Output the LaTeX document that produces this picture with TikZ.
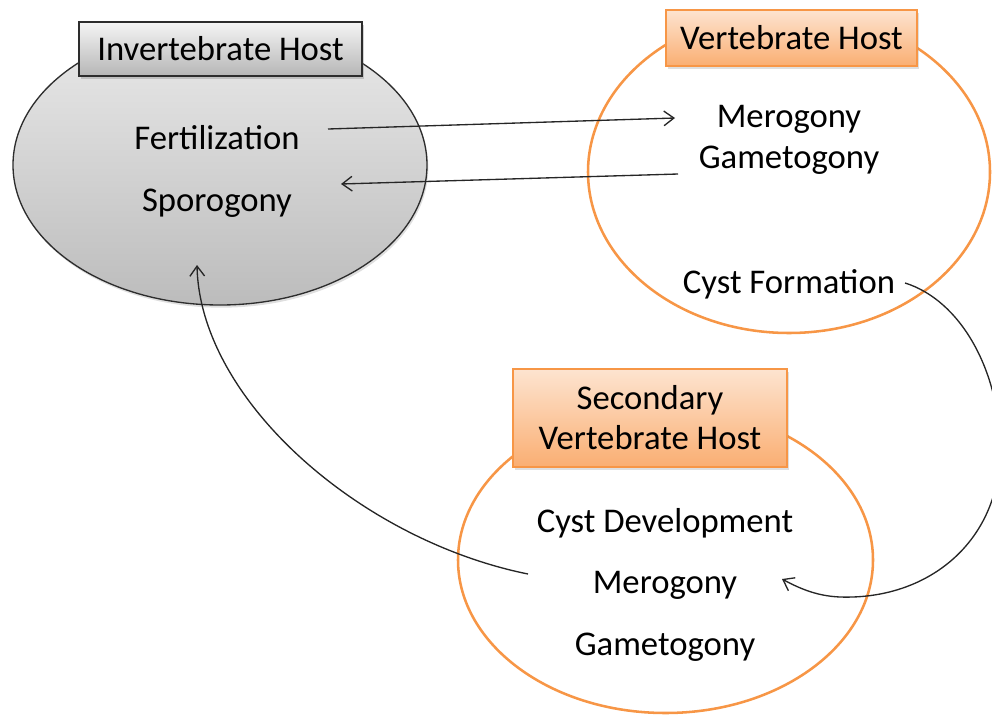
\documentclass[tikz,border=0pt]{standalone}
\usepackage{fontspec}
\setmainfont{Carlito}
\usetikzlibrary{shapes.geometric,arrows.meta,shadows}
\definecolor{orng}{RGB}{247,150,70}
\definecolor{orngtop}{RGB}{253,228,208}
\definecolor{orngbot}{RGB}{250,174,114}
\definecolor{graytop}{RGB}{234,234,234}
\definecolor{graybot}{RGB}{188,188,188}
\definecolor{gline}{RGB}{45,45,45}
\tikzset{
  txt/.style={inner sep=0pt, anchor=base, text=black},
  grayell/.style={ellipse, draw=gline, line width=1pt, top color=graytop, bottom color=graybot,
     drop shadow={shadow xshift=1pt, shadow yshift=-2pt, opacity=0.25}},
  orell/.style={ellipse, draw=orng, line width=1.9pt, fill=white},
  graybox/.style={rectangle, draw=gline, line width=1.1pt, top color=white!92!gray, bottom color=graybot!90!gray,
     inner sep=0pt, drop shadow={shadow xshift=1.5pt, shadow yshift=-2pt, opacity=0.35}},
  orbox/.style={rectangle, draw=orng, line width=1pt, top color=orngtop, bottom color=orngbot,
     inner sep=0pt, align=center, drop shadow={shadow xshift=1.5pt, shadow yshift=-2pt, opacity=0.25}},
  arr/.style={draw=black!85, line width=1pt, -{Straight Barb[length=7.5pt,width=11pt,line width=1pt]}}
}
\begin{document}
\begin{tikzpicture}[x=0.75pt,y=-0.75pt,font=\fontsize{26}{30}\selectfont]
\useasboundingbox (0,0) rectangle (992,715);
\clip (0,0) rectangle (992,715);

% ellipses
\node[grayell, minimum width=310.5pt, minimum height=210pt] (invE) at (220,165) {};
\node[orell, minimum width=301.5pt, minimum height=241.5pt] (vertE) at (789,172) {};
\node[orell, minimum width=311.25pt, minimum height=229.5pt] (secE) at (665.5,560) {};

% header boxes
\node[graybox, minimum width=212.25pt, minimum height=40.5pt] (invB) at (220.5,49) {Invertebrate Host};
\node[orbox, minimum width=188.25pt, minimum height=42pt] (vertB) at (791.5,38) {Vertebrate Host};
\node[orbox, minimum width=205.5pt, minimum height=73.5pt] (secB) at (650,418) {Secondary\\Vertebrate Host};

% texts
\node[txt] (fert) at (217,149) {Fertilization};
\node[txt] (sporo) at (217,211) {Sporogony};
\node[txt] (mero1) at (789,127) {Merogony};
\node[txt] (game1) at (789,168) {Gametogony};
\node[txt] (cystf) at (789,293) {Cyst Formation};
\node[txt] (cystd) at (665,532) {Cyst Development};
\node[txt] (mero2) at (665,593) {Merogony};
\node[txt] (game2) at (665,655) {Gametogony};

% connector end points
\coordinate (a1s) at (328,129);
\coordinate (a1e) at (675,118);
\coordinate (a2s) at (678,174);
\coordinate (a2e) at (341,184);
\coordinate (a3s) at (905,283);
\coordinate (a3e) at (782,579);
\coordinate (a4s) at (528,574);
\coordinate (a4e) at (197,265);

\draw[arr] (a1s) -- (a1e);
\draw[arr] (a2s) -- (a2e);
\draw[arr] (a3s) .. controls (960,300) and (1000,370) .. (1000,450)
   .. controls (1000,540) and (930,600) .. (840,597)
   .. controls (815,596) and (797,587) .. (a3e);
\draw[arr] (a4s) .. controls (360,540) and (200,400) .. (a4e);
\end{tikzpicture}
\end{document}
